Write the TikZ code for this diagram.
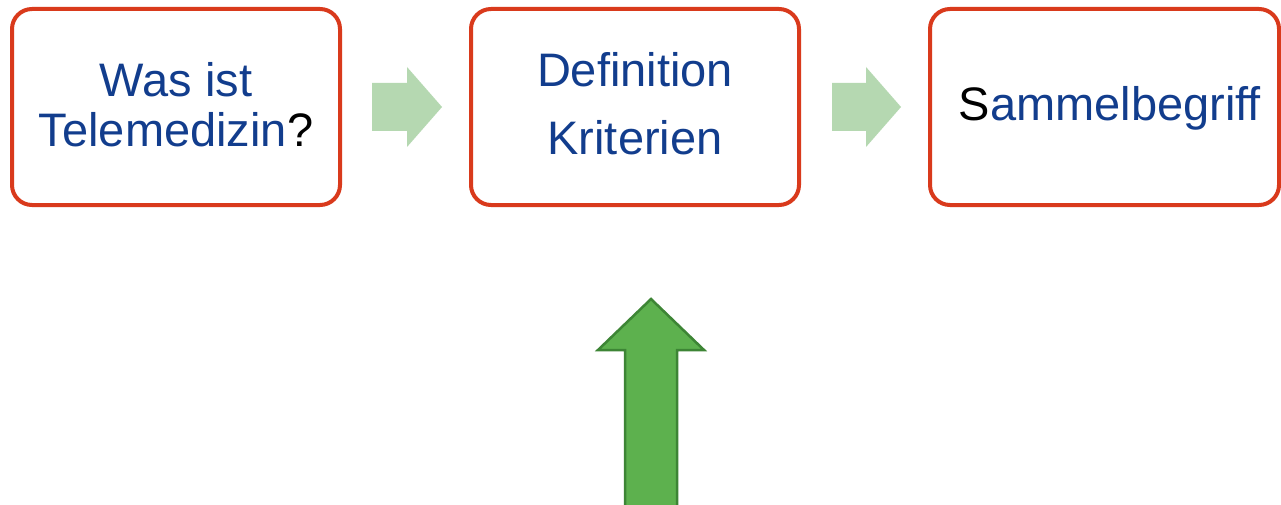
\documentclass[tikz,border=0pt]{standalone}
\usepackage{fontspec}
\setmainfont{Liberation Sans}
\definecolor{txtblue}{HTML}{123D8D}
\definecolor{boxred}{HTML}{D93A1C}
\definecolor{lightgreen}{HTML}{B5D8B1}
\definecolor{darkfill}{HTML}{5DB14E}
\definecolor{darkedge}{HTML}{3D8535}
\begin{document}
\begin{tikzpicture}[x=1pt,y=-1pt,
  box/.style={draw=boxred,line width=4pt,rounded corners=20pt,fill=white,
    minimum height=196pt,inner sep=0pt,outer sep=0pt},
  lbl/.style={anchor=base,inner sep=0pt,font=\fontsize{47}{50}\selectfont,text=txtblue},
  flowarrow/.style={fill=lightgreen,draw=none},
  bigarrow/.style={fill=darkfill,draw=darkedge,line width=2.5pt,line join=miter}]
\useasboundingbox (0,0) rectangle (1281,505);
\clip (0,0) rectangle (1281,505);
\fill[white] (0,0) rectangle (1281,505);
% boxes
\node[box,minimum width=328pt] (box1) at (176,107) {};
\node[box,minimum width=328pt] (box2) at (635,107) {};
\node[box,minimum width=349pt] (box3) at (1104.5,107) {};
% texts
\node[lbl] (t1a) at (176,97) {Was ist};
\node[lbl] (t1b) at (176,147) {Telemedizin\textcolor{black}{?}};
\node[lbl] (t2a) at (635,87) {Definition};
\node[lbl] (t2b) at (635,155) {Kriterien};
\node[lbl] (t3) at (1110,121) {\textcolor{black}{S}ammelbegriff};
% light green block arrows
\fill[flowarrow] (372,83) -- (407,83) -- (407,67) -- (442,107) -- (407,147) -- (407,131) -- (372,131) -- cycle;
\fill[flowarrow] (832,83) -- (866,83) -- (866,67) -- (901,107) -- (866,147) -- (866,131) -- (832,131) -- cycle;
% big upward arrow
\draw[bigarrow] (625,512) -- (625,350) -- (598,350) -- (651,299) -- (704,350) -- (677,350) -- (677,512) -- cycle;
\end{tikzpicture}
\end{document}
